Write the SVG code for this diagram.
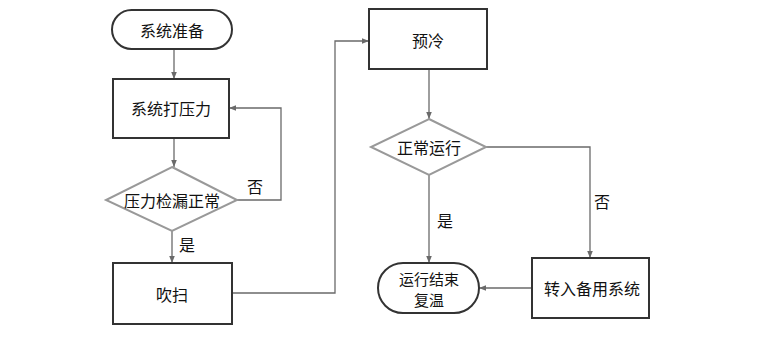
<svg xmlns="http://www.w3.org/2000/svg" width="767" height="342" viewBox="0 0 767 342">
<style>
.box{fill:#fff;stroke:#333;stroke-width:2}
.dia{fill:#fff;stroke:#999;stroke-width:2}
.ln{fill:none;stroke:#6a6a6a;stroke-width:1.3}
text{font-family:"Noto Sans CJK SC","Noto Sans CJK JP",sans-serif;font-size:16px;fill:#111;text-anchor:middle;dominant-baseline:central}
</style>
<defs>
<marker id="a" viewBox="0 0 10 10" refX="10" refY="5" markerWidth="7" markerHeight="7" orient="auto" markerUnits="userSpaceOnUse">
<path d="M0,1 L10,5 L0,9 Z" fill="#6a6a6a"/>
</marker>
</defs>
<rect width="767" height="342" fill="#fff"/>
<g id="connectors">
<path class="ln" d="M174,49 V79" marker-end="url(#a)"/>
<path class="ln" d="M174,138 V167" marker-end="url(#a)"/>
<path class="ln" d="M237,200 H281 V108 H229" marker-end="url(#a)"/>
<path class="ln" d="M172,231 V263" marker-end="url(#a)"/>
<path class="ln" d="M232,293 H335 V41 H369" marker-end="url(#a)"/>
<path class="ln" d="M429,69 V119" marker-end="url(#a)"/>
<path class="ln" d="M486,147 H590 V258" marker-end="url(#a)"/>
<path class="ln" d="M429,175 V263" marker-end="url(#a)"/>
<path class="ln" d="M532,288 H479" marker-end="url(#a)"/>
<text x="255" y="186">否</text>
<text x="187" y="244">是</text>
<text x="602" y="201">否</text>
<text x="445" y="220">是</text>
</g>
<g id="start">
<rect class="box" x="112" y="10" width="120" height="39" rx="19.5"/>
<text x="172" y="30">系统准备</text>
</g>
<g id="pressurize">
<rect class="box" x="113" y="79" width="116" height="59"/>
<text x="171" y="108">系统打压力</text>
</g>
<g id="leakcheck">
<polygon class="dia" points="172,167 237,200 172,231 106,200"/>
<text x="172" y="200">压力检漏正常</text>
</g>
<g id="purge">
<rect class="box" x="113" y="263" width="119" height="61"/>
<text x="172" y="294">吹扫</text>
</g>
<g id="precool">
<rect class="box" x="369" y="9" width="118" height="60"/>
<text x="428" y="40">预冷</text>
</g>
<g id="normal">
<polygon class="dia" points="429,119 486,147 429,175 371,147"/>
<text x="429" y="147">正常运行</text>
</g>
<g id="end">
<rect class="box" x="378" y="263" width="101" height="50" rx="25"/>
<text x="429" y="278" style="font-size:15px">运行结束</text>
<text x="429" y="299" style="font-size:15px">复温</text>
</g>
<g id="backup">
<rect class="box" x="532" y="258" width="117" height="60"/>
<text x="592" y="288">转入备用系统</text>
</g>
</svg>
